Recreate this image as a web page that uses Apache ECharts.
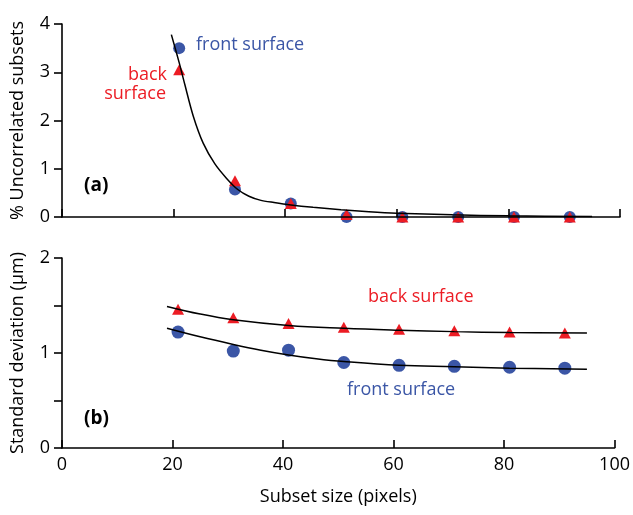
<!DOCTYPE html>
<html>
<head>
<meta charset="utf-8">
<script src="https://cdn.jsdelivr.net/npm/echarts@6/dist/echarts.min.js"></script>
<style>
  html, body { margin: 0; padding: 0; background: #fff; }
  #chart { width: 633px; height: 515px; }
</style>
</head>
<body>
<div id="chart"></div>
<script>
// subset sizes (pixels)
var sizes = [21, 31, 41, 51, 61, 71, 81, 91];

// (a) % uncorrelated subsets
var uncorrFront = [3.5, 0.57, 0.28, 0, 0, 0, 0, 0];
var uncorrBack = [3.05, 0.75, 0.28, 0.05, 0, 0, 0, 0];
var uncorrFit = [[19.6, 3.78], [21, 3.2], [22, 2.75], [23.5, 2.1], [25.3, 1.53], [27.4, 1.1],
  [29.5, 0.8], [31.5, 0.57], [33.5, 0.43], [35.5, 0.35], [38, 0.3], [41, 0.25], [45, 0.2],
  [50, 0.15], [55, 0.11], [60, 0.08], [70, 0.045], [80, 0.025], [95, 0.01]];

// (b) standard deviation (um)
var sdFront = [1.22, 1.02, 1.03, 0.9, 0.87, 0.86, 0.85, 0.84];
var sdBack = [1.46, 1.37, 1.31, 1.27, 1.25, 1.235, 1.22, 1.21];
var sdFitFront = [[19, 1.26], [25, 1.17], [31, 1.09], [36, 1.03], [41, 0.98], [46, 0.94],
  [51, 0.91], [61, 0.87], [71, 0.855], [81, 0.84], [95, 0.83]];
var sdFitBack = [[19, 1.49], [25, 1.41], [31, 1.35], [41, 1.29], [51, 1.26], [61, 1.24],
  [71, 1.225], [81, 1.215], [95, 1.21]];

var xTicks = [0, 20, 40, 60, 80, 100];

var blue = '#3b56a6';
var red = '#ec1c24';
var font = 'Open Sans';

function pairs(xs, ys) {
  return xs.map(function (x, i) { return [x, ys[i]]; });
}

var chart = echarts.init(document.getElementById('chart'));

var axisLine = { show: true, lineStyle: { color: '#000', width: 1.6 } };
var tickStyle = { color: '#000', width: 1.6 };
var fitStyle = { color: '#000', width: 1.5 };

var option = {
  animation: false,
  textStyle: { fontFamily: font },
  grid: [
    { left: 62, right: 13, top: 24, height: 193 },
    { left: 62, right: 13, top: 258, height: 190 }
  ],
  xAxis: [
    {
      gridIndex: 0, type: 'value', min: xTicks[0], max: xTicks[xTicks.length - 1], interval: 20,
      z: 5, axisLine: axisLine,
      axisTick: { show: true, inside: true, length: 8, lineStyle: tickStyle },
      axisLabel: { show: false }, splitLine: { show: false }
    },
    {
      gridIndex: 1, type: 'value', min: xTicks[0], max: xTicks[xTicks.length - 1], interval: 20,
      z: 5, axisLine: axisLine,
      axisTick: { show: true, inside: true, length: 8, lineStyle: tickStyle },
      axisLabel: { color: '#000', fontSize: 18, margin: 8, fontFamily: font },
      splitLine: { show: false },
      name: 'Subset size (pixels)', nameLocation: 'middle', nameGap: 40,
      nameTextStyle: { color: '#000', fontSize: 18, fontFamily: font }
    }
  ],
  yAxis: [
    {
      gridIndex: 0, type: 'value', min: 0, max: 4, interval: 1,
      z: 5, axisLine: axisLine,
      axisTick: { show: true, length: 8, lineStyle: tickStyle },
      axisLabel: { color: '#000', fontSize: 18, margin: 12, fontFamily: font },
      splitLine: { show: false },
      name: '% Uncorrelated subsets', nameLocation: 'middle', nameGap: 35,
      nameTextStyle: { color: '#000', fontSize: 18, fontFamily: font }
    },
    {
      gridIndex: 1, type: 'value', min: 0, max: 2, interval: 0.5,
      z: 5, axisLine: axisLine,
      axisTick: { show: true, length: 8, lineStyle: tickStyle },
      axisLabel: {
        color: '#000', fontSize: 18, margin: 12, fontFamily: font,
        formatter: function (v) { return v % 1 === 0 ? String(v) : ''; }
      },
      splitLine: { show: false },
      name: 'Standard deviation (\u00b5m)', nameLocation: 'middle', nameGap: 35,
      nameTextStyle: { color: '#000', fontSize: 18, fontFamily: font }
    }
  ],
  series: [
    {
      type: 'scatter', xAxisIndex: 0, yAxisIndex: 0, clip: true,
      symbol: 'circle', symbolSize: 12, itemStyle: { color: blue, opacity: 1 },
      data: pairs(sizes, uncorrFront)
    },
    {
      type: 'scatter', xAxisIndex: 0, yAxisIndex: 0, clip: true,
      symbol: 'triangle', symbolSize: [12, 11], itemStyle: { color: red, opacity: 1 },
      data: pairs(sizes, uncorrBack)
    },
    {
      type: 'line', xAxisIndex: 0, yAxisIndex: 0, smooth: 0.3,
      showSymbol: false, lineStyle: fitStyle, data: uncorrFit
    },
    {
      type: 'scatter', xAxisIndex: 1, yAxisIndex: 1,
      symbol: 'circle', symbolSize: 13, itemStyle: { color: blue, opacity: 1 },
      data: pairs(sizes, sdFront)
    },
    {
      type: 'scatter', xAxisIndex: 1, yAxisIndex: 1,
      symbol: 'triangle', symbolSize: [12, 11], itemStyle: { color: red, opacity: 1 },
      data: pairs(sizes, sdBack)
    },
    {
      type: 'line', xAxisIndex: 1, yAxisIndex: 1, smooth: 0.4,
      showSymbol: false, lineStyle: fitStyle, data: sdFitFront
    },
    {
      type: 'line', xAxisIndex: 1, yAxisIndex: 1, smooth: 0.4,
      showSymbol: false, lineStyle: fitStyle, data: sdFitBack
    }
  ],
  graphic: [
    { type: 'text', left: 196, top: 36, style: { text: 'front surface', fill: blue, font: '18px "Open Sans"' } },
    { type: 'text', right: 466, top: 66, style: { text: 'back', fill: red, font: '18px "Open Sans"' } },
    { type: 'text', right: 467, top: 85, style: { text: 'surface', fill: red, font: '18px "Open Sans"' } },
    { type: 'text', left: 84, top: 176, style: { text: '(a)', fill: '#000', font: 'bold 19px "Open Sans"' } },
    { type: 'text', left: 84, top: 409, style: { text: '(b)', fill: '#000', font: 'bold 19px "Open Sans"' } },
    { type: 'text', left: 368, top: 288, style: { text: 'back surface', fill: red, font: '18px "Open Sans"' } },
    { type: 'text', left: 347, top: 381, style: { text: 'front surface', fill: blue, font: '18px "Open Sans"' } }
  ]
};

chart.setOption(option);
</script>
</body>
</html>
